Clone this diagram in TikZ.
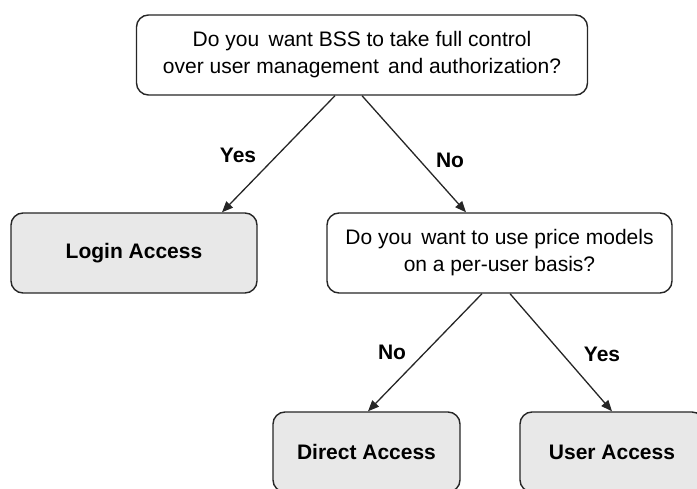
\documentclass[tikz,border=0pt]{standalone}
\usepackage{fontspec}
\setmainfont{Liberation Sans}
\usetikzlibrary{arrows.meta}
\begin{document}
\begin{tikzpicture}[x=1pt,y=-1pt,
  qbox/.style={draw=black!85, line width=1.4pt, rounded corners=12pt, fill=white,
    align=center, inner sep=0pt, font=\fontsize{21}{27}\selectfont},
  rbox/.style={draw=black!85, line width=1.4pt, rounded corners=12pt, fill=black!9,
    align=center, inner sep=0pt, font=\fontsize{21}{27}\selectfont\bfseries},
  arr/.style={draw=black!85, line width=1.3pt, -{Triangle[length=11pt,width=9pt]}},
  lbl/.style={font=\fontsize{21}{25}\selectfont\bfseries, inner sep=0pt}]
\useasboundingbox (0,0) rectangle (697,489);
\clip (0,0) rectangle (697,489);
\node[qbox, minimum width=451pt, minimum height=80pt] (top) at (362,55)
  {Do you\ \,want BSS to take full control\\over user management\ \,and authorization?};
\node[qbox, minimum width=345pt, minimum height=80pt] (mid) at (499.5,253)
  {Do you\ \,want to use price models\\on a per-user basis?};
\node[rbox, minimum width=246pt, minimum height=80pt] (login) at (134,253) {Login Access};
\node[rbox, minimum width=187pt, minimum height=80pt] (direct) at (366.5,452) {Direct Access};
\node[rbox, minimum width=184pt, minimum height=80pt] (user) at (612,452) {User Access};
\draw[arr] ([xshift=-27pt]top.south) -- ([xshift=88pt]login.north);
\draw[arr] (top.south) -- ([xshift=-33.5pt]mid.north);
\draw[arr] ([xshift=-17.5pt]mid.south) -- ([xshift=1.5pt]direct.north);
\draw[arr] ([xshift=10.5pt]mid.south) -- (user.north);
\node[lbl] (l1) at (238,155) {Yes};
\node[lbl] (l2) at (450,160) {No};
\node[lbl] (l3) at (392,352) {No};
\node[lbl] (l4) at (602,354) {Yes};
\end{tikzpicture}
\end{document}
